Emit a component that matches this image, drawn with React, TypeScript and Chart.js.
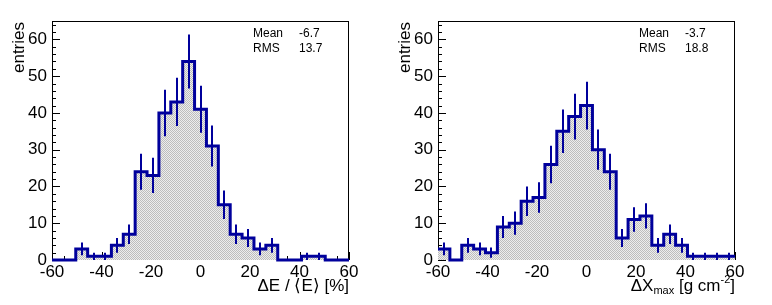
import React, { useEffect, useRef } from "react";
import { Chart, registerables } from "chart.js";

Chart.register(...registerables);

// ---------- data ----------
const X_EDGES = [-60, -55.2, -50.4, -45.6, -40.8, -36, -31.2, -26.4, -21.6, -16.8, -12, -7.2, -2.4, 2.4, 7.2, 12, 16.8, 21.6, 26.4, 31.2, 36, 40.8, 45.6, 50.4, 55.2, 60];
const E_COUNTS = [0, 0, 3, 1, 1, 4, 7, 24, 23, 40, 43, 54, 41, 31, 15, 7, 6, 3, 4, 0, 0, 1, 1, 0, 0];
const XMAX_COUNTS = [3, 0, 4, 3, 2, 9, 10, 16, 17, 26, 35, 39, 42, 30, 24, 6, 11, 12, 4, 7, 4, 1, 1, 1, 1];
const Y_TICKS = [0, 10, 20, 30, 40, 50, 60];
const X_TICKS = [-60, -40, -20, 0, 20, 40, 60];
const STAT_NAMES = ["Mean", "RMS"];
const E_STATS = ["-6.7", "13.7"];
const XMAX_STATS = ["-3.7", "18.8"];
const Y_TITLE = "entries";

const FONT = '"Liberation Sans", Arial, Helvetica, sans-serif';
const BLUE = "#00009c";

type TitlePart = { text: string; small?: boolean; shift?: number };
const E_TITLE: TitlePart[] = [{ text: "\u0394E / \u27e8E\u27e9 [%]" }];
const XMAX_TITLE: TitlePart[] = [
  { text: "\u0394X" },
  { text: "max", small: true, shift: 3 },
  { text: " [g cm" },
  { text: "-2", small: true, shift: -8 },
  { text: "]" },
];

function makePattern(ctx: CanvasRenderingContext2D) {
  const c = document.createElement("canvas");
  c.width = 2;
  c.height = 2;
  const g = c.getContext("2d")!;
  g.fillStyle = "#ededed";
  g.fillRect(0, 0, 2, 2);
  g.fillStyle = "#bdbdbd";
  g.fillRect(0, 0, 1, 1);
  g.fillRect(1, 1, 1, 1);
  return ctx.createPattern(c, "repeat");
}

function Hist({ counts, stats, title, left }: { counts: number[]; stats: string[]; title: TitlePart[]; left: number }) {
  const ref = useRef<HTMLCanvasElement | null>(null);
  useEffect(() => {
    const canvas = ref.current!;
    const ctx = canvas.getContext("2d")!;
    const pts = X_EDGES.map((x, i) => ({ x, y: counts[Math.min(i, counts.length - 1)] }));

    const deco = {
      id: "deco",
      beforeDatasetsDraw(chart: any) {
        const { ctx: c, chartArea: a, scales } = chart;
        const xs = scales.x, ys = scales.y;
        c.save();
        c.strokeStyle = "#000";
        c.lineWidth = 1;
        c.strokeRect(a.left + 0.5, a.top + 0.5, a.right - a.left - 1, a.bottom - a.top - 1);
        c.beginPath();
        for (let v = 0; v <= 64; v += 2) {
          const y = Math.round(ys.getPixelForValue(v)) + 0.5;
          const len = v % 10 === 0 ? 8 : 4;
          c.moveTo(a.left, y);
          c.lineTo(a.left + len, y);
        }
        for (let v = -60; v <= 60; v += 5) {
          const x = Math.round(xs.getPixelForValue(v)) + 0.5;
          const len = v % 20 === 0 ? 8 : 4;
          c.moveTo(x, a.bottom);
          c.lineTo(x, a.bottom - len);
        }
        c.stroke();
        c.restore();
      },
      afterDatasetsDraw(chart: any) {
        const { ctx: c, scales } = chart;
        const xs = scales.x, ys = scales.y;
        c.save();
        c.strokeStyle = BLUE;
        c.lineWidth = 2;
        c.beginPath();
        counts.forEach((n, i) => {
          if (n <= 0) return;
          const cx = (X_EDGES[i] + X_EDGES[i + 1]) / 2;
          const px = Math.round(xs.getPixelForValue(cx));
          const e = Math.sqrt(n);
          c.moveTo(px, ys.getPixelForValue(n - e));
          c.lineTo(px, ys.getPixelForValue(n + e));
        });
        c.stroke();
        c.restore();
      },
      afterDraw(chart: any) {
        const { ctx: c, chartArea: a } = chart;
        c.save();
        c.fillStyle = "#000";
        c.font = `12px ${FONT}`;
        c.textBaseline = "alphabetic";
        c.textAlign = "left";
        STAT_NAMES.forEach((s, i) => {
          const y = 37 + i * 15;
          c.fillText(s, 253, y);
          c.fillText(stats[i], 299, y);
        });
        c.font = `17px ${FONT}`;
        c.translate(24, a.top + 1);
        c.rotate(-Math.PI / 2);
        c.textAlign = "right";
        c.fillText(Y_TITLE, 0, 0);
        c.setTransform(1, 0, 0, 1, 0, 0);
        const big = `17px ${FONT}`;
        const small = `11px ${FONT}`;
        let total = 0;
        const widths = title.map((p) => {
          c.font = p.small ? small : big;
          const w = c.measureText(p.text).width;
          total += w;
          return w;
        });
        let x = a.right - total;
        const base = 291;
        c.textAlign = "left";
        title.forEach((p, i) => {
          c.font = p.small ? small : big;
          c.fillText(p.text, x, base + (p.shift || 0));
          x += widths[i];
        });
        c.restore();
      },
    };

    const chart = new Chart(ctx, {
      type: "line",
      data: {
        datasets: [
          {
            data: pts,
            stepped: "before",
            borderColor: BLUE,
            borderWidth: 3,
            backgroundColor: makePattern(ctx) as any,
            fill: "origin",
            pointRadius: 0,
            tension: 0,
            clip: 6,
          } as any,
        ],
      },
      options: {
        animation: false,
        responsive: false,
        events: [],
        layout: { padding: { left: 0, right: 37, top: 21, bottom: 0 } },
        plugins: { legend: { display: false }, tooltip: { enabled: false } },
        scales: {
          x: {
            type: "linear",
            min: -60,
            max: 60,
            grid: { display: false, drawTicks: false },
            border: { display: false },
            ticks: { font: { family: FONT, size: 17 }, color: "#000", padding: 2, maxRotation: 0, autoSkip: false },
            afterBuildTicks: (s: any) => {
              s.ticks = X_TICKS.map((value) => ({ value }));
            },
            afterFit: (s: any) => {
              s.height = 45;
            },
          },
          y: {
            type: "linear",
            min: 0,
            max: 65,
            grid: { display: false, drawTicks: false },
            border: { display: false },
            ticks: { font: { family: FONT, size: 17 }, color: "#000", padding: 5, autoSkip: false },
            afterBuildTicks: (s: any) => {
              s.ticks = Y_TICKS.map((value) => ({ value }));
            },
            afterFit: (s: any) => {
              s.width = 52;
            },
          },
        },
      } as any,
      plugins: [deco],
    });
    return () => chart.destroy();
  }, []);
  return (
    <canvas
      ref={ref}
      width={386}
      height={305}
      style={{ position: "absolute", left, top: 0, width: 386, height: 305, display: "block" }}
    />
  );
}

export default function App() {
  return (
    <div style={{ position: "absolute", left: 0, top: 0, width: 772, height: 305, background: "#fff" }}>
      <Hist counts={E_COUNTS} stats={E_STATS} title={E_TITLE} left={0} />
      <Hist counts={XMAX_COUNTS} stats={XMAX_STATS} title={XMAX_TITLE} left={386} />
    </div>
  );
}
